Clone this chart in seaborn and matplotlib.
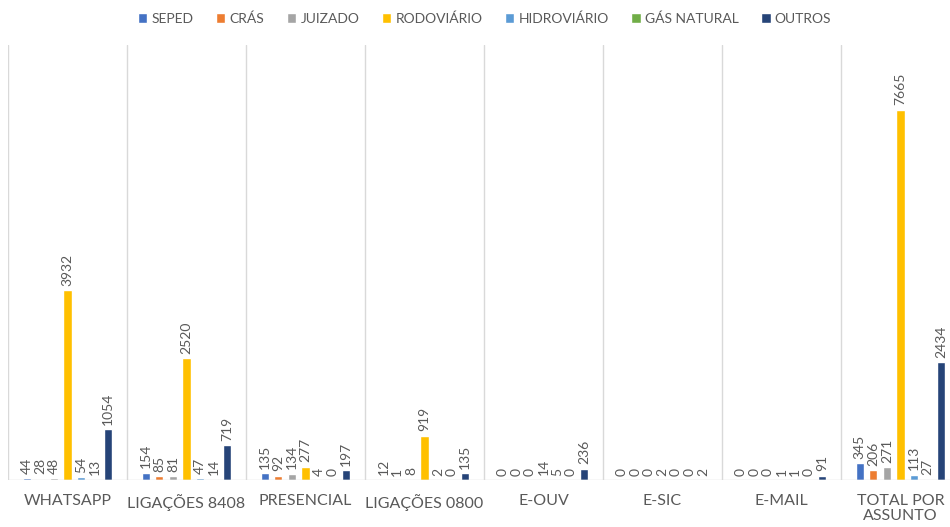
import numpy as np
import pandas as pd
import matplotlib
matplotlib.use("Agg")
import matplotlib.pyplot as plt
import seaborn as sns

# -----------------------------
# Data
# -----------------------------
canais = ["WHATSAPP", "LIGAÇÕES 8408", "PRESENCIAL", "LIGAÇÕES 0800",
          "E-OUV", "E-SIC", "E-MAIL", "TOTAL POR\nASSUNTO"]
assuntos = ["SEPED", "CRÁS", "JUIZADO", "RODOVIÁRIO", "HIDROVIÁRIO",
            "GÁS NATURAL", "OUTROS"]

seped = [44, 154, 135, 12, 0, 0, 0, 345]
cras = [28, 85, 92, 1, 0, 0, 0, 206]
juizado = [48, 81, 134, 8, 0, 0, 0, 271]
rodoviario = [3932, 2520, 277, 919, 14, 2, 1, 7665]
hidroviario = [54, 47, 4, 2, 5, 0, 1, 113]
gas_natural = [13, 14, 0, 0, 0, 0, 0, 27]
outros = [1054, 719, 197, 135, 236, 2, 91, 2434]

cores = ["#4472C4", "#ED7D31", "#A5A5A5", "#FFC000", "#5B9BD5",
         "#70AD47", "#264478"]

series = [seped, cras, juizado, rodoviario, hidroviario, gas_natural, outros]
df = pd.DataFrame({
    "Canal": canais * len(assuntos),
    "Assunto": np.repeat(assuntos, len(canais)),
    "Valor": np.concatenate(series),
})

# -----------------------------
# Plot
# -----------------------------
sns.set_style("white")
plt.rcParams["font.family"] = ["Lato", "DejaVu Sans"]
texto = "#595959"

fig = plt.figure(figsize=(9.5, 5.27), dpi=100)
ax = fig.add_axes([8 / 950, 47 / 527, 952 / 950, 435 / 527])

sns.barplot(data=df, x="Canal", y="Valor", hue="Assunto", order=canais,
            hue_order=assuntos, palette=cores, width=0.8, gap=0.4,
            saturation=1, ax=ax, legend=True)

for cont in ax.containers:
    ax.bar_label(cont, rotation=90, padding=3, fontsize=10, color=texto)

ax.set_ylim(0, 9000)
ax.set_xlim(-0.5, len(canais) - 0.5)
ax.set_yticks([])
ax.set_xlabel("")
ax.set_ylabel("")
for s in ax.spines.values():
    s.set_visible(False)

# separadores entre categorias
ax.set_xticks(np.arange(-0.5, len(canais), 1), minor=True)
ax.grid(which="minor", axis="x", color="#d9d9d9", linewidth=1)
ax.axhline(0, color="#d9d9d9", linewidth=1)
ax.tick_params(axis="x", which="both", length=0, pad=10)
ax.set_xticks(range(len(canais)))
ax.set_xticklabels(canais, fontsize=11.5, color=texto, linespacing=1.1)

ax.legend(loc="upper center", bbox_to_anchor=(0.51, 1.0),
          bbox_transform=fig.transFigure, ncol=7, frameon=False,
          fontsize=10, handlelength=0.7, handleheight=0.7,
          handletextpad=0.3, columnspacing=1.6, labelcolor=texto)

fig.savefig("out.png", dpi=100)
